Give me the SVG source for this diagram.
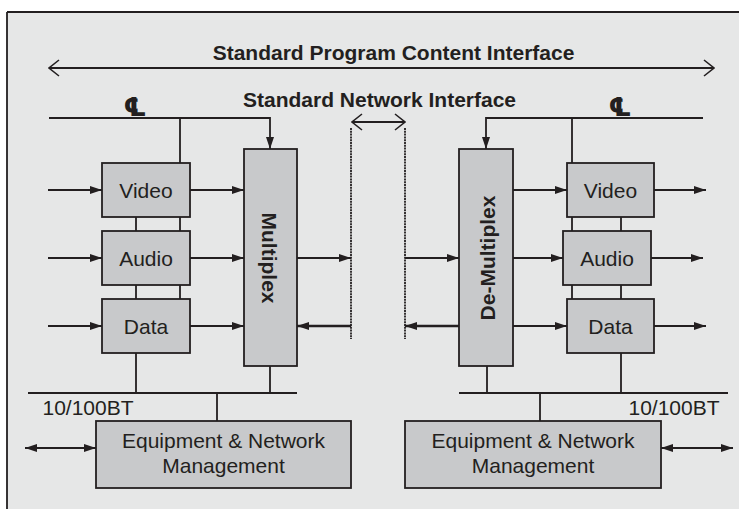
<svg xmlns="http://www.w3.org/2000/svg" width="739" height="509" viewBox="0 0 739 509">
  <style>
    .ln { stroke: #231f20; stroke-width: 1.8; fill: none; }
    .thick { stroke: #231f20; stroke-width: 2.6; fill: none; }
    .dot { stroke: #231f20; stroke-width: 1.8; fill: none; stroke-dasharray: 2 0.8; }
    .box { fill: #c8c9cb; stroke: #231f20; stroke-width: 1.8; }
    .t { font-family: "Liberation Sans", Arial, sans-serif; font-size: 21px; fill: #231f20; text-anchor: middle; }
    .b { font-weight: bold; }
    .cl { font-family: "DejaVu Sans", sans-serif; font-size: 26px; font-weight: bold; font-style: italic; fill: #231f20; text-anchor: middle; }
  </style>
  <defs>
    <marker id="ah" viewBox="0 0 12 8" refX="12" refY="4" markerWidth="12" markerHeight="8" markerUnits="userSpaceOnUse" orient="auto-start-reverse">
      <path d="M0,0 L12,4 L0,8 z" fill="#231f20"/>
    </marker>
    <marker id="open" viewBox="0 0 12 18" refX="11" refY="9" markerWidth="12" markerHeight="18" markerUnits="userSpaceOnUse" orient="auto-start-reverse">
      <path d="M1,1 L11,9 L1,17" fill="none" stroke="#231f20" stroke-width="1.6"/>
    </marker>
  </defs>

  <!-- panel background and frame -->
  <rect x="7" y="12" width="732" height="497" fill="#e6e7e7"/>
  <path class="ln" d="M7,12 H739 M7,12 V509" stroke-width="2"/>

  <!-- headings -->
  <text class="t b" x="393.5" y="60">Standard Program Content Interface</text>
  <text class="t b" x="379.5" y="107">Standard Network Interface</text>
  <!-- centre-line marks -->
  <text class="cl" x="135" y="116">℄</text>
  <text class="cl" x="620" y="116">℄</text>

  <g id="connectors">
    <!-- interface spans -->
    <path class="ln" d="M49,68 H714" stroke-width="1.6" marker-start="url(#open)" marker-end="url(#open)"/>
    <path class="ln" d="M352,122 H405" stroke-width="1.6" marker-start="url(#open)" marker-end="url(#open)"/>
    <path class="dot" d="M351,128 V339"/>
    <path class="dot" d="M405,128 V339"/>

    <!-- encoder side clock / control -->
    <path class="ln" d="M49,118 H270 V149" marker-end="url(#ah)"/>
    <path class="ln" d="M180,118 V163 M180,217 V231 M180,285 V299 M136,217 V231 M136,285 V299"/>
    <!-- encoder inputs -->
    <path class="ln" d="M48,190 H102" marker-end="url(#ah)"/>
    <path class="ln" d="M48,258 H102" marker-end="url(#ah)"/>
    <path class="ln" d="M48,326 H102" marker-end="url(#ah)"/>
    <path class="ln" d="M190,190 H244" marker-end="url(#ah)"/>
    <path class="ln" d="M190,258 H244" marker-end="url(#ah)"/>
    <path class="ln" d="M190,326 H244" marker-end="url(#ah)"/>
    <path class="ln" d="M297,258 H351" marker-end="url(#ah)"/>
    <path class="thick" d="M351,326 H297" marker-end="url(#ah)"/>

    <!-- decoder side clock / control -->
    <path class="ln" d="M703,118 H486 V149" marker-end="url(#ah)"/>
    <path class="ln" d="M572,118 V163 M572,217 V231 M572,285 V299 M621,217 V231 M621,285 V299"/>
    <path class="ln" d="M405,258 H459" marker-end="url(#ah)"/>
    <path class="thick" d="M459,326 H405" marker-end="url(#ah)"/>
    <path class="ln" d="M513,190 H567" marker-end="url(#ah)"/>
    <path class="ln" d="M513,258 H563" marker-end="url(#ah)"/>
    <path class="ln" d="M513,326 H567" marker-end="url(#ah)"/>
    <path class="ln" d="M654,190 H706" marker-end="url(#ah)"/>
    <path class="ln" d="M651,258 H703" marker-end="url(#ah)"/>
    <path class="ln" d="M654,326 H706" marker-end="url(#ah)"/>

    <!-- 10/100BT buses -->
    <path class="ln" d="M28,393 H297 M136,353 V393 M270,366 V393 M217,393 V421"/>
    <path class="ln" d="M459,393 H728 M487,366 V393 M621,353 V393 M540,393 V421"/>
    <path class="ln" d="M25,448 H96" marker-start="url(#ah)" marker-end="url(#ah)"/>
    <path class="ln" d="M661,448 H733" marker-start="url(#ah)" marker-end="url(#ah)"/>
  </g>

  <text class="t" x="88" y="415">10/100BT</text>
  <text class="t" x="674" y="415">10/100BT</text>

  <!-- encoder side -->
  <g id="video-in">
    <rect class="box" x="102" y="163" width="88" height="54"/>
    <text class="t" x="146" y="198">Video</text>
  </g>
  <g id="audio-in">
    <rect class="box" x="102" y="231" width="88" height="54"/>
    <text class="t" x="146" y="266">Audio</text>
  </g>
  <g id="data-in">
    <rect class="box" x="102" y="299" width="88" height="54"/>
    <text class="t" x="146" y="334">Data</text>
  </g>
  <g id="multiplex">
    <rect class="box" x="244" y="149" width="53" height="217"/>
    <text class="t b" transform="translate(262,258) rotate(90)">Multiplex</text>
  </g>
  <g id="mgmt-left">
    <rect class="box" x="96" y="421" width="255" height="67"/>
    <text class="t" x="223.5" y="448">Equipment &amp; Network</text>
    <text class="t" x="223.5" y="473">Management</text>
  </g>

  <!-- decoder side -->
  <g id="demultiplex">
    <rect class="box" x="459" y="149" width="54" height="217"/>
    <text class="t b" transform="translate(495,258) rotate(-90)">De-Multiplex</text>
  </g>
  <g id="video-out">
    <rect class="box" x="567" y="163" width="87" height="54"/>
    <text class="t" x="610.5" y="198">Video</text>
  </g>
  <g id="audio-out">
    <rect class="box" x="563" y="231" width="88" height="54"/>
    <text class="t" x="607" y="266">Audio</text>
  </g>
  <g id="data-out">
    <rect class="box" x="567" y="299" width="87" height="54"/>
    <text class="t" x="610.5" y="334">Data</text>
  </g>
  <g id="mgmt-right">
    <rect class="box" x="405" y="421" width="256" height="67"/>
    <text class="t" x="533" y="448">Equipment &amp; Network</text>
    <text class="t" x="533" y="473">Management</text>
  </g>
</svg>
